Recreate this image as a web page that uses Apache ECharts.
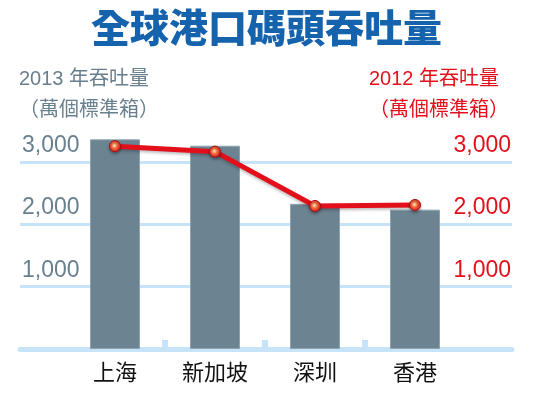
<!DOCTYPE html>
<html>
<head>
<meta charset="utf-8">
<script src="https://cdn.jsdelivr.net/npm/echarts@6/dist/echarts.min.js"></script>
<style>
  html, body { margin: 0; padding: 0; background: #fff; }
  #chart-container { width: 533px; height: 399px; }
</style>
</head>
<body>
<div id="chart-container"></div>
<script>
// data
var ports = ['上海', '新加坡', '深圳', '香港'];
var teu2013 = [3362, 3260, 2328, 2235];
var teu2012 = [3253, 3165, 2294, 2310];

var latin = "'Liberation Sans', 'Noto Sans CJK TC', sans-serif";
var cjk = "'Noto Sans CJK TC', sans-serif";
var grey = '#687f8e';
var red = '#e3101b';
var pale = '#c6e3f8';

var dom = document.getElementById('chart-container');
var myChart = echarts.init(dom, null, { renderer: 'canvas' });

var option = {
  animation: false,
  backgroundColor: '#fff',
  title: [
    {
      text: '全球港口碼頭吞吐量',
      left: 'center',
      top: 3,
      textStyle: { fontFamily: cjk, fontSize: 39, fontWeight: 900, color: '#1562ad' }
    },
    {
      text: '2013 年吞吐量\n（萬個標準箱）',
      left: 19,
      top: 64,
      padding: 0,
      textStyle: { fontFamily: latin, fontSize: 20, fontWeight: 'normal', lineHeight: 31, color: grey }
    }
  ],
  graphic: [
    {
      type: 'text',
      right: 24,
      top: 64,
      style: {
        text: '2012 年吞吐量\n（萬個標準箱）',
        align: 'right',
        font: "20px 'Liberation Sans', 'Noto Sans CJK TC', sans-serif",
        lineHeight: 31,
        fill: red
      }
    }
  ],
  grid: [
    // wide grid: split lines, side labels, base line
    { left: 20, right: 21, top: 162, bottom: 50 },
    // bar grid
    { left: 65, right: 68, top: 137, bottom: 50 }
  ],
  xAxis: [
    {
      gridIndex: 0, type: 'value', min: 0, max: 1,
      axisLine: { show: true, lineStyle: { color: pale, width: 5 } },
      axisTick: { show: false }, axisLabel: { show: false }, splitLine: { show: false }
    },
    {
      gridIndex: 1, type: 'category', data: ports,
      axisLine: { show: false }, axisTick: { show: false },
      axisLabel: { fontFamily: cjk, fontSize: 22, color: '#111', margin: 12 }
    },
    {
      gridIndex: 1, type: 'value', min: 0, max: ports.length, position: 'bottom',
      axisLine: { show: false }, axisLabel: { show: false }, splitLine: { show: false },
      axisTick: {
        show: true, inside: true, length: 9,
        customValues: ports.slice(1).map(function (p, i) { return i + 1; }),
        lineStyle: { color: pale, width: 6 }
      }
    }
  ],
  yAxis: [
    {
      gridIndex: 0, type: 'value', min: 0, max: 3000, interval: 1000, position: 'left',
      axisLine: { show: false }, axisTick: { show: false },
      splitLine: { show: true, lineStyle: { color: pale, width: 3 } },
      axisLabel: {
        inside: true, margin: 2, showMinLabel: false, verticalAlign: 'bottom',
        padding: [0, 0, 5, 0],
        fontFamily: latin, fontSize: 23, color: grey,
        formatter: function (v) { return v.toLocaleString('en-US'); }
      }
    },
    {
      gridIndex: 0, type: 'value', min: 0, max: 3000, interval: 1000, position: 'right',
      axisLine: { show: false }, axisTick: { show: false }, splitLine: { show: false },
      axisLabel: {
        inside: true, margin: 1, showMinLabel: false, verticalAlign: 'bottom',
        padding: [0, 0, 5, 0],
        fontFamily: latin, fontSize: 23, color: red,
        formatter: function (v) { return v.toLocaleString('en-US'); }
      }
    },
    {
      gridIndex: 1, type: 'value', min: 0, max: 3400, position: 'left',
      axisLine: { show: false }, axisTick: { show: false }, axisLabel: { show: false }, splitLine: { show: false }
    },
    {
      gridIndex: 1, type: 'value', min: 0, max: 3400, position: 'right',
      axisLine: { show: false }, axisTick: { show: false }, axisLabel: { show: false }, splitLine: { show: false }
    }
  ],
  series: [
    {
      name: '2013',
      type: 'bar',
      xAxisIndex: 1,
      yAxisIndex: 2,
      barWidth: 50,
      data: teu2013,
      itemStyle: { color: '#6c8392', borderColor: '#8ea2b0', borderWidth: 1 }
    },
    {
      name: '2012',
      type: 'line',
      xAxisIndex: 1,
      yAxisIndex: 3,
      data: teu2012,
      symbol: 'circle',
      symbolSize: 11,
      lineStyle: { color: red, width: 5, shadowColor: 'rgba(0,0,0,0.25)', shadowBlur: 3, shadowOffsetY: 2 },
      itemStyle: {
        color: {
          type: 'radial', x: 0.45, y: 0.45, r: 0.6,
          colorStops: [
            { offset: 0, color: '#fff0c8' },
            { offset: 0.4, color: '#f26a3a' },
            { offset: 1, color: '#d8101a' }
          ]
        },
        borderColor: '#a80d14',
        borderWidth: 1,
        shadowColor: 'rgba(0,0,0,0.3)', shadowBlur: 3, shadowOffsetY: 2
      },
      z: 5
    }
  ]
};

myChart.setOption(option);
window.addEventListener('resize', myChart.resize);
</script>
</body>
</html>
